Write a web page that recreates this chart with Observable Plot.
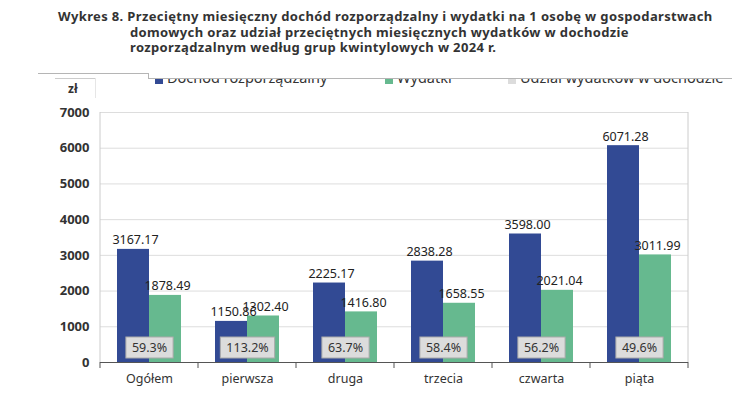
<!DOCTYPE html>
<html><head><meta charset="utf-8">
<script src="https://cdn.jsdelivr.net/npm/d3@7"></script>
<script src="https://cdn.jsdelivr.net/npm/@observablehq/plot@0.6"></script>
<style>
body{margin:0;background:#fff;}
#wrap{position:relative;width:732px;height:395px;overflow:hidden;font-family:"Noto Sans",sans-serif;background:#fff;}
#chart{position:absolute;left:0;top:0;}
.title{position:absolute;font-weight:bold;font-size:13px;letter-spacing:0.36px;line-height:14px;color:#333;white-space:nowrap;}
.ln{position:absolute;background:#b5b5b5;}
#legclip{position:absolute;left:0;top:79px;width:732px;height:11px;overflow:hidden;}
.leg{position:absolute;top:-9px;font-size:14.5px;line-height:15px;color:#333;white-space:nowrap;}
.sw{position:absolute;top:-2px;width:8px;height:7px;}
#zl{position:absolute;left:68px;top:80px;font-size:12px;font-weight:bold;color:#333;}
svg g[aria-label^="y-axis"] text{font-weight:bold;font-size:13px;}
</style></head><body>
<div id="wrap">
  <div id="chart"></div>
  <div class="title" style="left:58px;top:8.5px;">Wykres 8. Przeciętny miesięczny dochód rozporządzalny i wydatki na 1 osobę w gospodarstwach</div>
  <div class="title" style="left:130px;top:24.5px;">domowych oraz udział przeciętnych miesięcznych wydatków w dochodzie</div>
  <div class="title" style="left:130px;top:40px;">rozporządzalnym według grup kwintylowych w 2024 r.</div>
  <div class="ln" style="left:38px;top:73px;width:110px;height:1px;"></div>
  <div class="ln" style="left:148px;top:73px;width:1px;height:6px;"></div>
  <div class="ln" style="left:148px;top:78px;width:584px;height:1px;"></div>
  <div class="ln" style="left:55px;top:78px;width:40px;height:1px;background:#ccc"></div>
  <div class="ln" style="left:95px;top:78px;width:1px;height:20px;background:#e6e6e6"></div>
  <div id="legclip"></div>
  <div id="zl">zł</div>
</div>
<script>
const categories = ["Ogółem", "pierwsza", "druga", "trzecia", "czwarta", "piąta"];
const dochod = [3167.17, 1150.86, 2225.17, 2838.28, 3598.00, 6071.28];
const wydatki = [1878.49, 1302.40, 1416.80, 1658.55, 2021.04, 3011.99];
const udzial = [59.3, 113.2, 63.7, 58.4, 56.2, 49.6];
const seriesNames = ["Dochód rozporządzalny", "Wydatki"];
const legendNames = ["Dochód rozporządzalny", "Wydatki", "Udział wydatków w dochodzie"];
const colors = ["#324a94", "#66b98f", "#dcdcdc"];
const yTicks = [0, 1000, 2000, 3000, 4000, 5000, 6000, 7000];

const rows = categories.flatMap((c, i) => [
  {cat: c, series: seriesNames[0], value: dochod[i]},
  {cat: c, series: seriesNames[1], value: wydatki[i]}
]);
const shares = categories.map((c, i) => ({cat: c, share: udzial[i]}));

const plot = Plot.plot({
  width: 732, height: 395,
  marginLeft: 100, marginRight: 44, marginTop: 112, marginBottom: 33,
  style: {fontFamily: "Noto Sans", fontSize: "12.5px", color: "#333", background: "transparent"},
  fx: {domain: categories, padding: 0, axis: "bottom", label: null, tickSize: 0, tickPadding: 12},
  x: {domain: seriesNames, axis: null, paddingInner: 0, paddingOuter: 0.5},
  y: {domain: [0, 7000], ticks: yTicks, label: null, tickSize: 0, tickPadding: 11, grid: true, tickFormat: d => String(d)},
  color: {domain: seriesNames, range: colors.slice(0, 2)},
  marks: [
    Plot.barY(rows, {fx: "cat", x: "series", y: "value", fill: "series"}),
    Plot.text(rows, {fx: "cat", x: "series", y: "value", text: d => d.value.toFixed(2), dy: -9, dx: 2, fill: "#222", fontSize: 12.5}),
    Plot.text(shares, {fx: "cat", frameAnchor: "bottom", dy: -11, text: d => d.share.toFixed(1) + "%", fill: "#333", fontSize: 12.5, ariaDescription: "pct"}),
    Plot.ruleY([0], {stroke: "#555"})
  ]
});
document.getElementById("chart").appendChild(plot);

const svg = d3.select(plot);
svg.selectAll("g[aria-label*='grid'] line").attr("stroke", "#ddd").attr("stroke-opacity", 1);

const fx = plot.scale("fx"), y = plot.scale("y");
const y0 = y.apply(0), yTop = y.apply(7000);
const bounds = categories.map(c => fx.apply(c)).concat([fx.apply(categories[categories.length - 1]) + fx.bandwidth]);
const extra = svg.append("g");
extra.selectAll("line.tk").data(bounds).join("line")
  .attr("x1", d => d).attr("x2", d => d).attr("y1", y0).attr("y2", y0 + 6)
  .attr("stroke", "#555");
extra.selectAll("line.bd").data([bounds[0], bounds[bounds.length - 1]]).join("line")
  .attr("x1", d => d).attr("x2", d => d).attr("y1", yTop).attr("y2", y0)
  .attr("stroke", "#ccc");

svg.selectAll("g[aria-description='pct'] text").each(function () {
  const b = this.getBBox();
  d3.select(this.parentNode).insert("rect", () => this)
    .attr("x", b.x - 6).attr("y", b.y - 1.5).attr("width", b.width + 12).attr("height", b.height + 4)
    .attr("fill", colors[2]).attr("stroke", "#aaa").attr("transform", this.getAttribute("transform"));
});

const legX = [155, 385, 508];
const leg = d3.select("#legclip");
legendNames.forEach((n, i) => {
  leg.append("div").attr("class", "sw").style("left", legX[i] + "px").style("background", colors[i]);
  leg.append("div").attr("class", "leg").style("left", (legX[i] + 12) + "px").text(n);
});
</script>
</body></html>
